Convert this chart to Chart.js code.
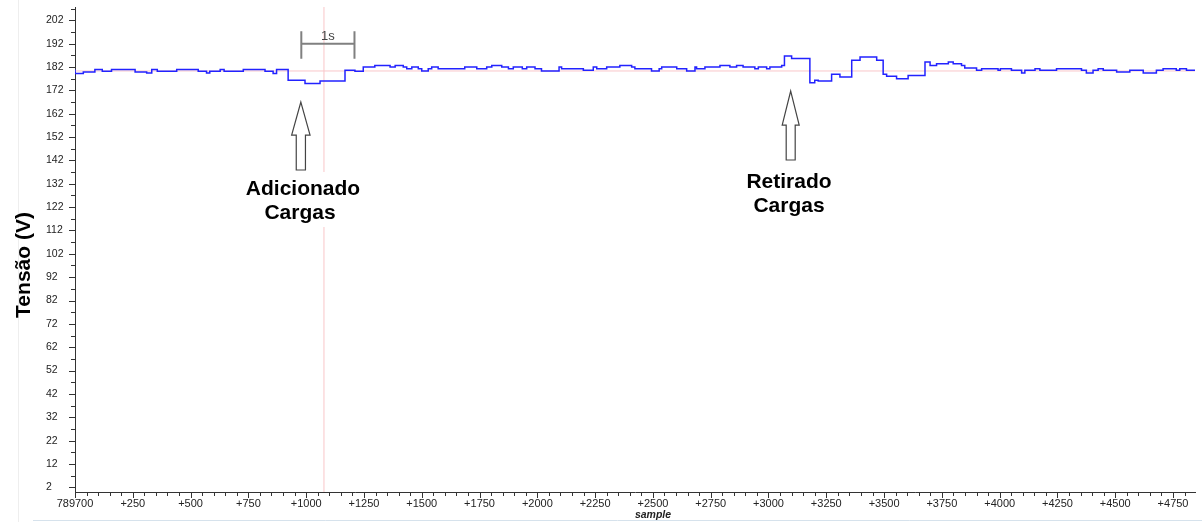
<!DOCTYPE html>
<html>
<head>
<meta charset="utf-8">
<title>Tensão</title>
<script src="https://cdn.jsdelivr.net/npm/chart.js@4.4.1/dist/chart.umd.min.js"></script>
<style>
  html, body { margin: 0; padding: 0; background: #fff; }
  #wrap { width: 1202px; height: 522px; }
</style>
</head>
<body>
<div id="wrap"><canvas id="chart" width="1202" height="522"></canvas></div>
<script>
// sample offset where the level changes, and the level (V) from there on
var stepX = [0, 36, 86, 118, 158, 260, 310, 332, 356, 440, 533, 569, 583, 628, 645, 728, 822, 857, 872, 922,
  995, 1060, 1168, 1211, 1247, 1297, 1363, 1385, 1420, 1435, 1457, 1485, 1500, 1528, 1543, 1571, 1686, 1738, 1781, 1803,
  1846, 1875, 1896, 1935, 1954, 1990, 2018, 2094, 2105, 2199, 2242, 2257, 2300, 2357, 2408, 2422, 2494, 2527, 2538, 2603,
  2646, 2682, 2689, 2725, 2790, 2833, 2862, 2890, 2941, 2956, 2992, 3006, 3057, 3069, 3100, 3179, 3200, 3215, 3273, 3309,
  3360, 3396, 3468, 3496, 3511, 3554, 3604, 3677, 3699, 3727, 3778, 3799, 3835, 3849, 3900, 3922, 3993, 4003, 4051, 4095,
  4109, 4153, 4174, 4246, 4354, 4375, 4404, 4426, 4448, 4506, 4563, 4621, 4678, 4707, 4764, 4779, 4808, 4822];
var stepV = [180.9, 179.2, 179.9, 180.9, 180.2, 180.9, 179.9, 179.4, 180.9, 180.2, 180.9, 180.2, 179.4, 180.2, 180.9, 180.2, 180.9, 180.2, 179.2, 180.9,
  176.3, 174.9, 176.0, 180.6, 180.2, 182.0, 182.7, 182.0, 182.7, 182.0, 181.3, 182.0, 181.3, 180.3, 181.3, 182.0, 181.3, 182.0, 181.3, 182.0,
  182.7, 182.0, 181.3, 182.0, 181.3, 182.0, 181.3, 180.3, 182.0, 181.3, 180.6, 182.0, 181.3, 182.0, 182.7, 182.0, 181.3, 180.3, 181.3, 182.0,
  181.3, 180.3, 182.0, 181.3, 182.0, 182.7, 182.0, 182.7, 182.0, 181.3, 182.0, 181.3, 182.0, 182.7, 186.7, 185.6, 175.3, 176.3, 176.0, 178.9,
  177.7, 184.9, 186.3, 184.9, 178.9, 178.0, 177.0, 178.4, 184.1, 182.7, 183.4, 184.1, 183.4, 182.7, 181.6, 180.6, 181.3, 180.6, 181.3, 180.6,
  179.4, 180.6, 181.3, 180.6, 181.3, 180.6, 179.4, 180.6, 181.3, 180.6, 179.9, 180.6, 179.4, 180.6, 181.3, 180.6, 181.3, 180.6];

var xTicks = [0, 250, 500, 750, 1000, 1250, 1500, 1750, 2000, 2250, 2500, 2750, 3000, 3250, 3500, 3750, 4000, 4250, 4500, 4750];
var xTickLabels = ['789700', '+250', '+500', '+750', '+1000', '+1250', '+1500', '+1750', '+2000', '+2250', '+2500',
  '+2750', '+3000', '+3250', '+3500', '+3750', '+4000', '+4250', '+4500', '+4750'];
var yTicks = [2, 12, 22, 32, 42, 52, 62, 72, 82, 92, 102, 112, 122, 132, 142, 152, 162, 172, 182, 192, 202];

var cursorX = 1077;   // red cursor (sample)
var refV = 180.3;     // reference level (V)
var xMax = 4845;
var yMax = 207.7;

var signal = stepX.map(function (x, i) { return { x: x, y: stepV[i] }; });
signal.push({ x: xMax, y: stepV[stepV.length - 1] });

var FONT = "'Liberation Sans', Arial, sans-serif";

var decor = {
  id: 'decor',
  beforeDraw: function (chart) {
    var c = chart.ctx;
    c.save();
    c.fillStyle = '#fff';
    c.fillRect(0, 0, chart.width, chart.height);
    c.strokeStyle = '#eeeeee';
    c.lineWidth = 1;
    c.beginPath(); c.moveTo(18.5, 0); c.lineTo(18.5, 522); c.stroke();
    c.strokeStyle = '#d6e2ec';
    c.beginPath(); c.moveTo(33, 520.5); c.lineTo(1202, 520.5); c.stroke();
    c.restore();
  },
  afterDraw: function (chart) {
    var xs = chart.scales.x, ys = chart.scales.y, c = chart.ctx;
    var v, p;
    c.save();
    // major + minor ticks
    c.strokeStyle = '#333';
    c.lineWidth = 1;
    c.beginPath();
    for (v = 0; v <= xMax; v += 50) {
      p = Math.round(xs.getPixelForValue(v)) + 0.5;
      c.moveTo(p, xs.top);
      c.lineTo(p, xs.top + (v % 250 === 0 ? 6 : 4));
    }
    for (v = 2; v <= yMax; v += 5) {
      p = Math.round(ys.getPixelForValue(v)) + 0.5;
      c.moveTo(ys.right, p);
      c.lineTo(ys.right - ((v - 2) % 10 === 0 ? 6 : 4), p);
    }
    c.stroke();

    // 1s bracket
    var b0 = xs.getPixelForValue(979), b1 = xs.getPixelForValue(1209), by = ys.getPixelForValue(192);
    c.strokeStyle = '#808080';
    c.lineWidth = 2;
    c.beginPath();
    c.moveTo(b0, by - 12.5); c.lineTo(b0, by + 15);
    c.moveTo(b1, by - 12.5); c.lineTo(b1, by + 15);
    c.moveTo(b0, by); c.lineTo(b1, by);
    c.stroke();
    c.fillStyle = '#444';
    c.font = '13px ' + FONT;
    c.textAlign = 'center';
    c.textBaseline = 'alphabetic';
    c.fillText('1s', (b0 + b1) / 2, by - 4);

    // white box behind first note (hides the cursor line)
    c.fillStyle = '#fff';
    c.fillRect(242, 172, 124, 55);

    drawArrow(c, xs.getPixelForValue(977), ys.getPixelForValue(167), 33, 9.2, 4.6, 170);
    drawArrow(c, xs.getPixelForValue(3096), ys.getPixelForValue(171.7), 34, 8.5, 4.5, 160);

    c.fillStyle = '#000';
    c.font = 'bold 21px ' + FONT;
    c.textAlign = 'center';
    c.fillText('Adicionado', 303, 195);
    c.fillText('Cargas', 300, 219);
    c.fillText('Retirado', 789, 188);
    c.fillText('Cargas', 789, 212);

    // axis titles
    c.save();
    c.translate(30, 265);
    c.rotate(-Math.PI / 2);
    c.fillText('Tensão (V)', 0, 0);
    c.restore();

    c.fillStyle = '#222';
    c.font = 'italic bold 10.5px ' + FONT;
    c.fillText('sample', 653, 518);
    c.restore();
  }
};

function drawArrow(c, cx, tipY, headH, headW, shaftW, bottomY) {
  c.save();
  c.fillStyle = '#fff';
  c.strokeStyle = '#444';
  c.lineWidth = 1.2;
  c.beginPath();
  c.moveTo(cx, tipY);
  c.lineTo(cx + headW, tipY + headH);
  c.lineTo(cx + shaftW, tipY + headH);
  c.lineTo(cx + shaftW, bottomY);
  c.lineTo(cx - shaftW, bottomY);
  c.lineTo(cx - shaftW, tipY + headH);
  c.lineTo(cx - headW, tipY + headH);
  c.closePath();
  c.fill();
  c.stroke();
  c.restore();
}

var ctx = document.getElementById('chart');
var chart = new Chart(ctx, {
  type: 'line',
  data: {
    datasets: [
      { data: signal, borderColor: '#2222ff', borderWidth: 1.5, stepped: 'after', pointRadius: 0, order: 0 },
      { data: [{ x: 0, y: refV }, { x: xMax, y: refV }], borderColor: '#f9c6c9', borderWidth: 1, pointRadius: 0, order: 1 },
      { data: [{ x: cursorX, y: 0 }, { x: cursorX, y: yMax }], borderColor: '#f9c6c9', borderWidth: 1, pointRadius: 0, order: 1 }
    ]
  },
  options: {
    responsive: false,
    animation: false,
    layout: { padding: { left: 46, top: 7, right: 7, bottom: 0 } },
    plugins: { legend: { display: false }, tooltip: { enabled: false } },
    scales: {
      x: {
        type: 'linear',
        min: 0,
        max: xMax,
        afterBuildTicks: function (s) { s.ticks = xTicks.map(function (v) { return { value: v }; }); },
        afterFit: function (s) { s.height = 30; },
        grid: { drawOnChartArea: false, drawTicks: false },
        border: { color: '#333', width: 1 },
        ticks: {
          autoSkip: false,
          maxRotation: 0,
          padding: 5,
          color: '#222',
          font: { family: FONT, size: 11 },
          callback: function (v) { return xTickLabels[xTicks.indexOf(v)]; }
        }
      },
      y: {
        min: 0,
        max: yMax,
        afterBuildTicks: function (s) { s.ticks = yTicks.map(function (v) { return { value: v }; }); },
        afterFit: function (s) { s.width = 29; },
        grid: { drawOnChartArea: false, drawTicks: false },
        border: { color: '#333', width: 1 },
        ticks: {
          crossAlign: 'far',
          padding: 0,
          color: '#222',
          font: { family: FONT, size: 10.5 },
          callback: function (v) { return String(v); }
        }
      }
    }
  },
  plugins: [decor]
});
</script>
</body>
</html>
